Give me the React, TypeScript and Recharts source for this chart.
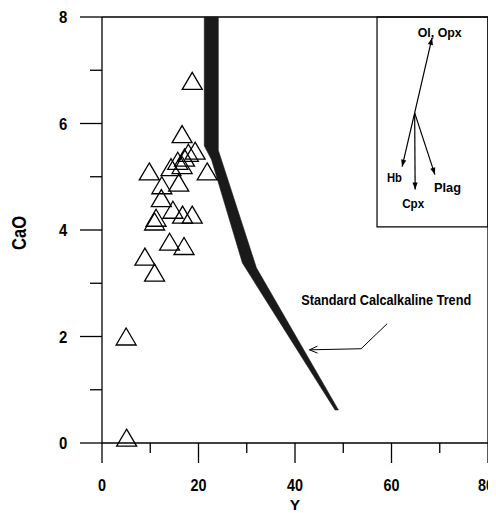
import React from 'react';
import { ScatterChart, Scatter, XAxis, YAxis, ReferenceLine, ReferenceArea, Label } from 'recharts';

// Samples: Y (ppm) vs CaO (wt%)
const sampleY = [18.7, 16.6, 17.9, 19.3, 17.1, 15.7, 16.6, 14.3, 9.8, 21.8, 15.9, 12.4, 12.3, 14.7, 16.7, 18.7, 11.2, 10.9, 14.0, 17.0, 8.9, 10.9, 5.0, 5.1];
const sampleCaO = [6.8, 5.8, 5.45, 5.49, 5.36, 5.3, 5.22, 5.18, 5.1, 5.1, 4.89, 4.84, 4.6, 4.38, 4.29, 4.29, 4.23, 4.16, 3.78, 3.7, 3.5, 3.2, 2.0, 0.1];

// Standard calcalkaline trend band outline (left edge down, right edge back up)
const trendY = [21.2, 21.2, 22.7, 29.1, 48.3, 49.0, 32.0, 24.1, 24.1];
const trendCaO = [8.0, 5.58, 5.32, 3.38, 0.62, 0.62, 3.29, 5.5, 8.0];

// Fractionation vectors in the inset
const vectorOriginY = 64.8;
const vectorOriginCaO = 6.2;
const vectorTipY = [68.4, 62.2, 64.9, 69.0];
const vectorTipCaO = [7.61, 5.19, 4.76, 5.04];

// Text annotations
const noteText = ['Ol, Opx', 'Hb', 'Cpx', 'Plag', 'Standard Calcalkaline Trend'];
const noteY = [70.0, 60.6, 64.5, 71.6, 58.9];
const noteCaO = [7.71, 4.98, 4.49, 4.79, 2.69];

// Pointer to the trend
const pointerY = [59.1, 53.7, 43.0];
const pointerCaO = [2.24, 1.77, 1.75];

// Inset box
const insetY = [57, 80];
const insetCaO = [4.06, 8];

const xTicks = [0, 10, 20, 30, 40, 50, 60, 70, 80];
const yTicks = [0, 1, 2, 3, 4, 5, 6, 7, 8];

// ---- styling ----
const FONT = "'Liberation Sans', Arial, sans-serif";
const NOTE_LEN: Record<string, number> = {
  'Ol, Opx': 44,
  Hb: 15,
  Cpx: 22,
  Plag: 27,
  'Standard Calcalkaline Trend': 170,
};
const NOTE_SIZE: Record<string, number> = {
  'Ol, Opx': 13.5,
  Hb: 13.5,
  Cpx: 13.5,
  Plag: 13.5,
  'Standard Calcalkaline Trend': 14,
};

const samples = sampleY.map((x, i) => ({ x, y: sampleCaO[i] }));
const trend = trendY.map((x, i) => ({ x, y: trendCaO[i] }));
const vectors = vectorTipY.map((x, i) => [
  { x: vectorOriginY, y: vectorOriginCaO },
  { x, y: vectorTipCaO[i] },
]);
const notes = noteText.map((t, i) => ({ x: noteY[i], y: noteCaO[i], t }));
const pointer = pointerY.map((x, i) => ({ x, y: pointerCaO[i] }));

const Triangle = (p: any) => {
  const { cx, cy } = p;
  if (cx == null || cy == null) return <g />;
  return (
    <polygon
      points={`${cx},${cy - 8.5} ${cx + 10},${cy + 8.5} ${cx - 10},${cy + 8.5}`}
      fill="none"
      stroke="#000"
      strokeWidth={1.3}
    />
  );
};

const Nothing = () => <g />;

const Band = (p: any) => {
  const pts = p.points || [];
  if (!pts.length) return <g />;
  const d = pts.map((q: any, i: number) => `${i ? 'L' : 'M'}${q.x},${q.y}`).join(' ') + ' Z';
  return <path d={d} fill="#1a1a1a" stroke="#1a1a1a" strokeWidth={0.6} />;
};

const Arrow = (p: any) => {
  const pts = p.points || [];
  if (pts.length < 2) return <g />;
  const a = pts[0];
  const b = pts[1];
  const ang = Math.atan2(b.y - a.y, b.x - a.x);
  const L = 7;
  const W = 2.6;
  const bx = b.x - L * Math.cos(ang);
  const by = b.y - L * Math.sin(ang);
  const nx = -Math.sin(ang) * W;
  const ny = Math.cos(ang) * W;
  return (
    <g>
      <line x1={a.x} y1={a.y} x2={b.x} y2={b.y} stroke="#000" strokeWidth={1.2} />
      <polygon points={`${b.x},${b.y} ${bx + nx},${by + ny} ${bx - nx},${by - ny}`} fill="#000" />
    </g>
  );
};

const Pointer = (p: any) => {
  const pts = p.points || [];
  if (pts.length < 2) return <g />;
  const d = pts.map((q: any, i: number) => `${i ? 'L' : 'M'}${q.x},${q.y}`).join(' ');
  const b = pts[pts.length - 1];
  const a = pts[pts.length - 2];
  const ang = Math.atan2(b.y - a.y, b.x - a.x);
  const L = 8;
  const W = 3.5;
  const bx = b.x - L * Math.cos(ang);
  const by = b.y - L * Math.sin(ang);
  const nx = -Math.sin(ang) * W;
  const ny = Math.cos(ang) * W;
  return (
    <g fill="none" stroke="#000" strokeWidth={1}>
      <path d={d} />
      <path d={`M${bx + nx},${by + ny} L${b.x},${b.y} L${bx - nx},${by - ny}`} />
    </g>
  );
};

const NoteShape = (p: any) => {
  const { cx, cy, payload } = p;
  if (cx == null) return <g />;
  return (
    <text
      x={cx - NOTE_LEN[payload.t] / 2}
      y={cy}
      dominantBaseline="central"
      textLength={NOTE_LEN[payload.t]}
      lengthAdjust="spacingAndGlyphs"
      fontFamily={FONT}
      fontWeight={700}
      fontSize={NOTE_SIZE[payload.t]}
      fill="#000"
    >
      {payload.t}
    </text>
  );
};

const XTick = (p: any) => {
  const { x, y, payload } = p;
  const v = payload.value;
  const major = v % 20 === 0;
  const len = String(v).length * 8;
  const shift = v === 80 ? -2 : 0;
  return (
    <g>
      <line x1={x} x2={x} y1={y} y2={y + (major ? 20 : 10)} stroke="#000" strokeWidth={1.3} />
      {major && (
        <text
          x={x - len / 2 + shift}
          y={y + 48}
          textLength={len}
          lengthAdjust="spacingAndGlyphs"
          fontFamily={FONT}
          fontWeight={700}
          fontSize={16.5}
          fill="#000"
        >
          {v}
        </text>
      )}
    </g>
  );
};

const YTick = (p: any) => {
  const { x, y, payload } = p;
  const v = payload.value;
  const major = v % 2 === 0;
  return (
    <g>
      <line x1={x - (major ? 22 : 12)} x2={x} y1={y} y2={y} stroke="#000" strokeWidth={1.3} />
      {major && (
        <text
          x={x - 43}
          y={y + 6}
          textLength={8.3}
          lengthAdjust="spacingAndGlyphs"
          fontFamily={FONT}
          fontWeight={700}
          fontSize={16.5}
          fill="#000"
        >
          {v}
        </text>
      )}
    </g>
  );
};

const YLabel = (p: any) => {
  const vb = p.viewBox || {};
  const cx = vb.x + 11;
  const cy = vb.y + vb.height / 2 + 3;
  return (
    <text
      x={cx - 17}
      y={cy}
      transform={`rotate(-90, ${cx}, ${cy})`}
      dominantBaseline="central"
      textLength={34}
      lengthAdjust="spacingAndGlyphs"
      fontFamily={FONT}
      fontWeight={700}
      fontSize={20}
      fill="#000"
    >
      CaO
    </text>
  );
};

const XLabel = (p: any) => {
  const vb = p.viewBox || {};
  const cx = vb.x + vb.width / 2;
  return (
    <text x={cx} y={vb.y + 67} textAnchor="middle" fontFamily={FONT} fontWeight={700} fontSize={15.5} fill="#000">
      Y
    </text>
  );
};

export default function App() {
  return (
    <ScatterChart width={488} height={505} margin={{ top: 9, right: 8, bottom: 0, left: 0 }}>
      <XAxis
        type="number"
        dataKey="x"
        domain={[0, 80]}
        ticks={xTicks}
        interval={0}
        height={70}
        tickSize={0}
        tickMargin={0}
        tickLine={false}
        tick={<XTick />}
        axisLine={{ stroke: '#000', strokeWidth: 1.3 }}
      >
        <Label content={<XLabel />} />
      </XAxis>
      <YAxis
        type="number"
        dataKey="y"
        domain={[0, 8]}
        ticks={yTicks}
        interval={0}
        width={94}
        tickSize={0}
        tickMargin={0}
        tickLine={false}
        tick={<YTick />}
        axisLine={{ stroke: '#000', strokeWidth: 1.3 }}
      >
        <Label content={<YLabel />} />
      </YAxis>
      <ReferenceLine y={8} stroke="#000" strokeWidth={1.3} />
      <ReferenceLine x={80} stroke="#000" strokeWidth={1.3} />
      <ReferenceArea x1={insetY[0]} x2={insetY[1]} y1={insetCaO[0]} y2={insetCaO[1]} fill="none" stroke="#000" strokeWidth={1.2} />
      <Scatter data={trend} line={Band} shape={Nothing} isAnimationActive={false} />
      {vectors.map((v, i) => (
        <Scatter key={i} data={v} line={Arrow} shape={Nothing} isAnimationActive={false} />
      ))}
      <Scatter data={pointer} line={Pointer} shape={Nothing} isAnimationActive={false} />
      <Scatter data={samples} shape={Triangle} isAnimationActive={false} />
      <Scatter data={notes} shape={NoteShape} isAnimationActive={false} />
    </ScatterChart>
  );
}
